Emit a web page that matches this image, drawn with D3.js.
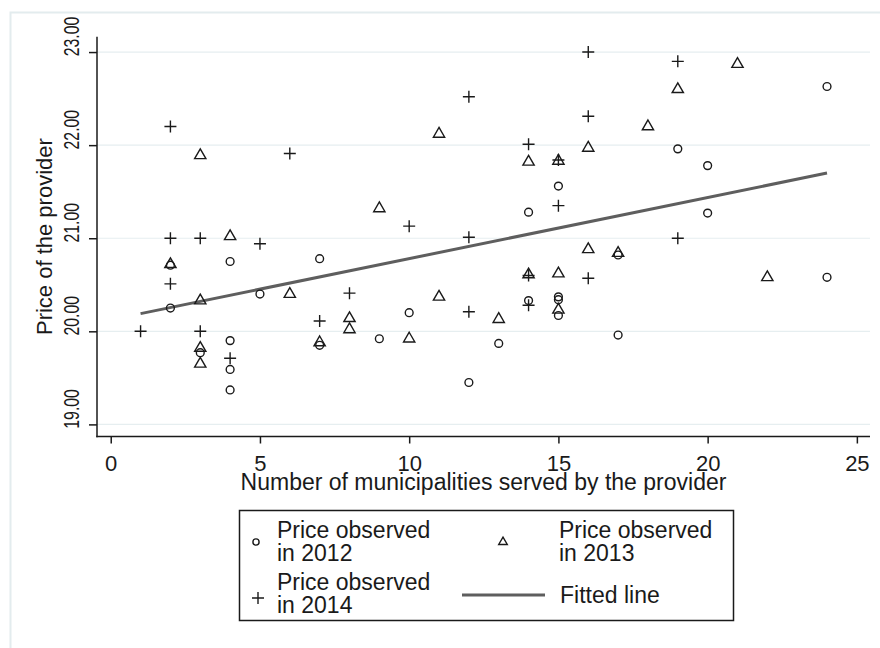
<!DOCTYPE html>
<meta charset="utf-8">
<style>

body {
  margin: 0;
  background: #fff;
}

text {
  font-family: "Liberation Sans", Arial, sans-serif;
  fill: #1a1a1a;
}

.axis path,
.axis line {
  fill: none;
  stroke: #1a1a1a;
  stroke-width: 1.5px;
}

.grid line {
  stroke: #e6eef0;
  stroke-width: 1.2px;
}

.marker {
  fill: none;
  stroke: #1a1a1a;
  stroke-width: 1.4px;
}

</style>
<body>
<div id="chart"></div>
<script src="https://cdnjs.cloudflare.com/ajax/libs/d3/7.8.5/d3.min.js"></script>
<script>

// price per provider, by number of municipalities served
var price2012 = [
  [2, 20.25], [2, 20.71], [3, 19.77], [4, 20.75], [4, 19.90], [4, 19.59], [4, 19.37],
  [5, 20.40], [7, 20.78], [7, 19.85], [9, 19.92], [10, 20.20], [12, 19.45], [13, 19.87],
  [14, 21.28], [14, 20.33], [15, 21.56], [15, 20.37], [15, 20.34], [15, 20.17],
  [17, 20.82], [17, 19.96], [19, 21.96], [20, 21.78], [20, 21.27], [24, 22.63], [24, 20.58]
];

var price2013 = [
  [2, 20.72], [3, 21.89], [3, 20.33], [3, 19.82], [3, 19.65], [4, 21.02], [6, 20.40],
  [7, 19.88], [8, 20.14], [8, 20.02], [9, 21.32], [10, 19.92], [11, 22.12], [11, 20.37],
  [13, 20.13], [14, 21.82], [14, 20.61], [15, 21.83], [15, 20.62], [15, 20.23],
  [16, 21.97], [16, 20.88], [17, 20.84], [18, 22.20], [19, 22.60], [21, 22.87], [22, 20.58]
];

var price2014 = [
  [1, 20.00], [2, 22.20], [2, 21.00], [2, 20.51], [3, 21.00], [3, 20.00], [4, 19.71],
  [5, 20.94], [6, 21.91], [7, 20.11], [8, 20.41], [10, 21.13], [12, 22.52], [12, 21.01],
  [12, 20.21], [14, 22.01], [14, 20.60], [14, 20.28], [15, 21.84], [15, 21.35],
  [16, 23.00], [16, 22.31], [16, 20.57], [19, 22.90], [19, 21.00]
];

// fitted line end points
var fitX = [1, 24];
var fitY = [20.19, 21.70];

var xTicks = [0, 5, 10, 15, 20, 25];
var yTicks = [19, 20, 21, 22, 23];

var legendLabels = ["Price observed|in 2012", "Price observed|in 2013", "Price observed|in 2014", "Fitted line"];

var width = 880, height = 648;
var plot = {left: 97, right: 870, top: 36.7, bottom: 436.5};
var fontSize = "23px";

var x = d3.scaleLinear().domain([-0.46, 25.44]).range([plot.left, plot.right]);
var y = d3.scaleLinear().domain([18.87, 23.165]).range([plot.bottom, plot.top]);

var svg = d3.select("#chart").append("svg")
    .attr("width", width)
    .attr("height", height);

// outer graph region frame
svg.append("rect")
    .attr("x", 10.5)
    .attr("y", 12.5)
    .attr("width", width)
    .attr("height", height)
    .attr("fill", "none")
    .attr("stroke", "#e3ecee")
    .attr("stroke-width", 2);

// grid
svg.append("g")
    .attr("class", "grid")
    .selectAll("line")
    .data(yTicks)
    .enter().append("line")
    .attr("x1", plot.left)
    .attr("x2", plot.right)
    .attr("y1", function(d) { return y(d); })
    .attr("y2", function(d) { return y(d); });

// fitted line
svg.append("line")
    .attr("x1", x(fitX[0]))
    .attr("y1", y(fitY[0]))
    .attr("x2", x(fitX[1]))
    .attr("y2", y(fitY[1]))
    .attr("stroke", "#5e5e5e")
    .attr("stroke-width", 3);

// axes
var yAxis = svg.append("g")
    .attr("class", "axis")
    .attr("transform", "translate(" + plot.left + ",0)")
    .call(d3.axisLeft(y).tickValues(yTicks).tickSize(8).tickSizeOuter(0).tickFormat(d3.format(".2f")));

// rotated labels come out narrow and a bit above their tick in the original
yAxis.selectAll("text")
    .attr("transform", "rotate(-90) translate(16,-18) scale(0.72,1)")
    .attr("x", 0)
    .attr("y", 0)
    .attr("dy", null)
    .attr("text-anchor", "middle")
    .style("font-size", "22px");

var xAxis = svg.append("g")
    .attr("class", "axis")
    .attr("transform", "translate(0," + plot.bottom + ")")
    .call(d3.axisBottom(x).tickValues(xTicks).tickSize(7).tickSizeOuter(0));

xAxis.selectAll("text")
    .attr("y", 34)
    .attr("dy", null)
    .style("font-size", "22px");

svg.selectAll(".axis .domain").attr("d", null);
yAxis.append("line").attr("x1", 0).attr("x2", 0).attr("y1", plot.top).attr("y2", plot.bottom + 0.75);
xAxis.append("line").attr("x1", plot.left - 0.75).attr("x2", plot.right).attr("y1", 0).attr("y2", 0);

// axis titles
svg.append("text")
    .attr("transform", "translate(52," + ((plot.top + plot.bottom) / 2) + ") rotate(-90)")
    .attr("text-anchor", "middle")
    .style("font-size", "22px")
    .text("Price of the provider");

svg.append("text")
    .attr("x", (plot.left + plot.right) / 2)
    .attr("y", 490)
    .attr("text-anchor", "middle")
    .style("font-size", fontSize)
    .text("Number of municipalities served by the provider");

// marker shapes
var circle = d3.symbol().type(d3.symbolCircle).size(48);
var triangle = d3.symbol().type(d3.symbolTriangle).size(55);
var plus = function(s) { return "M" + (-s) + ",0H" + s + "M0," + (-s) + "V" + s; };

svg.append("g").selectAll("path")
    .data(price2012)
    .enter().append("path")
    .attr("class", "marker")
    .attr("transform", function(d) { return "translate(" + x(d[0]) + "," + y(d[1]) + ")"; })
    .attr("d", circle());

svg.append("g").selectAll("path")
    .data(price2013)
    .enter().append("path")
    .attr("class", "marker")
    .attr("transform", function(d) { return "translate(" + x(d[0]) + "," + y(d[1]) + ")"; })
    .attr("d", triangle());

svg.append("g").selectAll("path")
    .data(price2014)
    .enter().append("path")
    .attr("class", "marker")
    .attr("stroke-width", 1.6)
    .attr("transform", function(d) { return "translate(" + x(d[0]) + "," + y(d[1]) + ")"; })
    .attr("d", plus(6));

// legend
var legend = svg.append("g");

legend.append("rect")
    .attr("x", 239.5)
    .attr("y", 510.5)
    .attr("width", 494)
    .attr("height", 110)
    .attr("fill", "#fff")
    .attr("stroke", "#1a1a1a")
    .attr("stroke-width", 1.5);

var legendItems = [
  {label: legendLabels[0], mx: 256, my: 542, tx: 277, ty: 538, mark: "circle"},
  {label: legendLabels[1], mx: 503, my: 542, tx: 559, ty: 538, mark: "triangle"},
  {label: legendLabels[2], mx: 258, my: 598, tx: 277, ty: 590, mark: "plus"},
  {label: legendLabels[3], mx: 503, my: 595, tx: 560, ty: 603, mark: "line"}
];

legendItems.forEach(function(d) {
  var g = legend.append("g");
  if (d.mark === "circle") {
    g.append("path").attr("class", "marker").attr("stroke-width", 1.2)
      .attr("transform", "translate(" + d.mx + "," + d.my + ")")
      .attr("d", d3.symbol().type(d3.symbolCircle).size(30)());
  } else if (d.mark === "triangle") {
    g.append("path").attr("class", "marker").attr("stroke-width", 1.2)
      .attr("transform", "translate(" + d.mx + "," + d.my + ")")
      .attr("d", d3.symbol().type(d3.symbolTriangle).size(32)());
  } else if (d.mark === "plus") {
    g.append("path").attr("class", "marker").attr("stroke-width", 1.6)
      .attr("transform", "translate(" + d.mx + "," + d.my + ")")
      .attr("d", plus(6));
  } else {
    g.append("line")
      .attr("x1", 462).attr("x2", 545)
      .attr("y1", d.my).attr("y2", d.my)
      .attr("stroke", "#5e5e5e")
      .attr("stroke-width", 3);
  }
  var lines = d.label.split("|");
  var t = g.append("text")
      .attr("x", d.tx)
      .attr("y", d.ty)
      .style("font-size", fontSize);
  lines.forEach(function(s, i) {
    t.append("tspan").attr("x", d.tx).attr("dy", i === 0 ? 0 : 22.5).text(s);
  });
});

</script>
